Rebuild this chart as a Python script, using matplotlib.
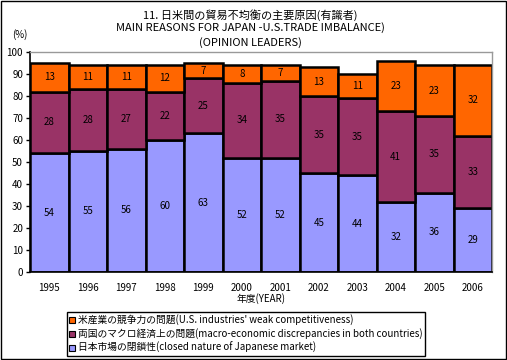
import matplotlib
matplotlib.use("Agg")
from matplotlib import pyplot as plt
from matplotlib.lines import Line2D
from matplotlib.patches import Rectangle
import numpy as np

plt.rcParams['font.family'] = ['Noto Sans CJK JP', 'DejaVu Sans']

years = ['1995', '1996', '1997', '1998', '1999', '2000', '2001',
         '2002', '2003', '2004', '2005', '2006']
closed_market = [54, 55, 56, 60, 63, 52, 52, 45, 44, 32, 36, 29]
macro_economic = [28, 28, 27, 22, 25, 34, 35, 35, 35, 41, 35, 33]
us_competitiveness = [13, 11, 11, 12, 7, 8, 7, 13, 11, 23, 23, 32]

series_labels = [
    '日本市場の閉鎖性(closed nature of Japanese market)',
    '両国のマクロ経済上の問題(macro-economic discrepancies in both countries)',
    '米産業の競争力の問題(U.S. industries\' weak competitiveness)',
]
colors = ['#9999FF', '#993366', '#FF6600']

W, H = 507, 360
fig = plt.figure(figsize=(W / 100, H / 100), dpi=100)
fig.patch.set_facecolor('white')
# outer frame of the picture
fig.add_artist(Rectangle((0.001, 0.002), 0.997, 0.996, transform=fig.transFigure,
                         fill=False, edgecolor='black', linewidth=1))

ax = fig.add_axes([30 / W, 1 - 272 / H, 462 / W, 220 / H])
x = np.arange(len(years))
bottom = np.zeros(len(years))
for vals, col in zip([closed_market, macro_economic, us_competitiveness], colors):
    vals = np.array(vals)
    ax.bar(x, vals, width=1.0, bottom=bottom, color=col, edgecolor='black',
           linewidth=1.8)
    for xi, b, v in zip(x, bottom, vals):
        ax.text(xi, b + v / 2, str(v), ha='center', va='center', fontsize=7)
    bottom += vals

ax.set_xlim(-0.5, len(years) - 0.5)
ax.set_ylim(0, 100)
ax.set_yticks(range(0, 101, 10))
ax.tick_params(axis='y', labelsize=7, length=3, width=1, pad=2)
ax.set_xticks(x)
ax.set_xticklabels(years)
ax.tick_params(axis='x', labelsize=7, length=0, pad=8)
ax.set_xlabel('年度(YEAR)', fontsize=7, labelpad=0)
for s in ['left', 'bottom']:
    ax.spines[s].set_color('black')
    ax.spines[s].set_linewidth(1.2)
for s in ['top', 'right']:
    ax.spines[s].set_color('#999999')
    ax.spines[s].set_linewidth(1)

fig.text(12 / W, 1 - 35 / H, '(%)', fontsize=7, ha='left', va='center')
fig.text(250 / W, 1 - 15 / H, '11. 日米間の貿易不均衡の主要原因(有識者)',
         fontsize=8, ha='center', va='center')
fig.text(250 / W, 1 - 28 / H, 'MAIN REASONS FOR JAPAN -U.S.TRADE IMBALANCE)',
         fontsize=8, ha='center', va='center')
fig.text(250 / W, 1 - 43 / H, '(OPINION LEADERS)',
         fontsize=8, ha='center', va='center')

handles = [Line2D([], [], marker='s', linestyle='none', markersize=5,
                  markerfacecolor=c, markeredgecolor='black', markeredgewidth=0.8)
           for c in colors]
leg = fig.legend(handles[::-1], series_labels[::-1], loc='upper left',
                 bbox_to_anchor=(67 / W, 1 - 312 / H), fontsize=7,
                 frameon=True, fancybox=False, edgecolor='black', framealpha=1,
                 handlelength=0.6, handletextpad=0.3, borderpad=0.25,
                 labelspacing=0.3, borderaxespad=0)
leg.get_frame().set_linewidth(1)

fig.savefig('out.png', dpi=100)
